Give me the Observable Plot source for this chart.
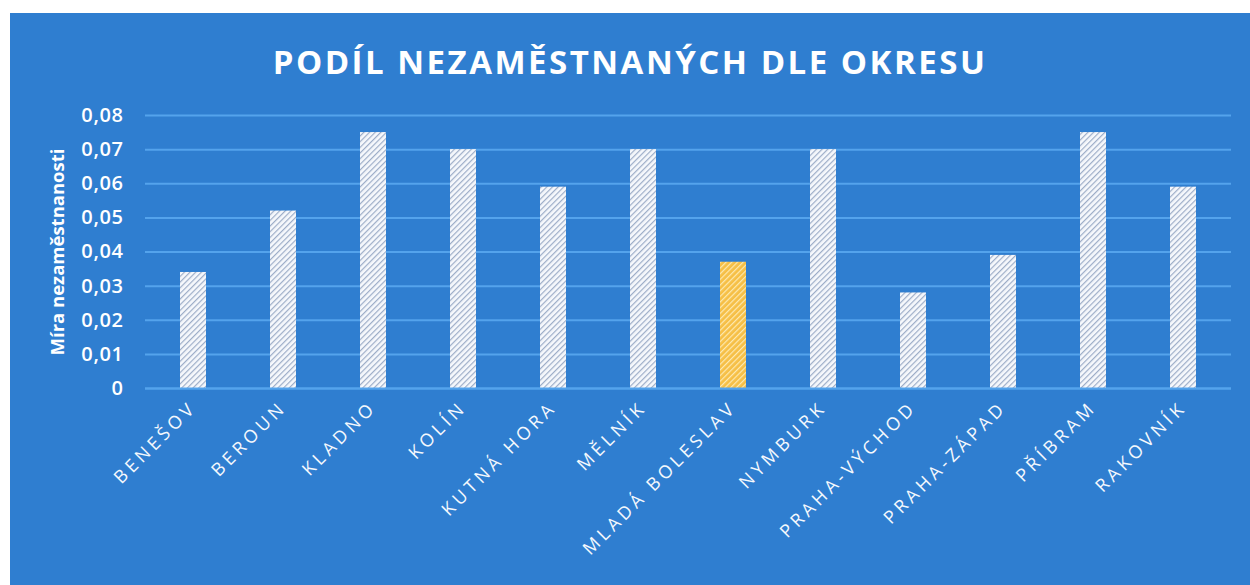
<!DOCTYPE html>
<html>
<head>
<meta charset="utf-8">
<script src="https://cdn.jsdelivr.net/npm/d3@7"></script>
<script src="https://cdn.jsdelivr.net/npm/@observablehq/plot@0.6"></script>
<style>
  html, body { margin: 0; padding: 0; background: #ffffff; width: 1250px; height: 585px; overflow: hidden; }
  #panel { position: absolute; left: 10px; top: 13px; width: 1240px; height: 572px; background: #2f7ed0; }
  #title { height: 82px; line-height: 98px; text-align: center; color: #ffffff; font-family: "Open Sans", sans-serif; font-weight: 700; font-size: 33px; letter-spacing: 2.5px; }
  g[aria-label="x-axis tick label"] text { letter-spacing: 4px; }
  g[aria-label="y-axis tick label"] text { letter-spacing: 0.6px; }
</style>
</head>
<body>
<div id="panel">
  <div id="title">PODÍL NEZAMĚSTNANÝCH DLE OKRESU</div>
  <div id="chart"></div>
</div>
<script>
const districts = ["BENEŠOV", "BEROUN", "KLADNO", "KOLÍN", "KUTNÁ HORA", "MĚLNÍK", "MLADÁ BOLESLAV", "NYMBURK", "PRAHA-VÝCHOD", "PRAHA-ZÁPAD", "PŘÍBRAM", "RAKOVNÍK"];
const rates = [0.034, 0.052, 0.075, 0.070, 0.059, 0.070, 0.037, 0.070, 0.028, 0.039, 0.075, 0.059];
const highlighted = ["MLADÁ BOLESLAV"];
const yTicks = [0, 0.01, 0.02, 0.03, 0.04, 0.05, 0.06, 0.07, 0.08];
const yLabel = "Míra nezaměstnanosti";

const data = districts.map((d, i) => ({district: d, rate: rates[i], hl: highlighted.includes(d)}));
const fmt = v => v === 0 ? "0" : v.toFixed(2).replace(".", ",");

const chart = Plot.plot({
  width: 1240,
  height: 490,
  marginTop: 20,
  marginBottom: 197,
  marginLeft: 135,
  marginRight: 19,
  style: {background: "transparent", color: "#ffffff", fontFamily: "Open Sans, sans-serif"},
  x: {domain: districts, paddingInner: 0.71, paddingOuter: 0.34, label: null},
  y: {domain: [0, 0.08], label: null},
  marks: [
    Plot.gridY(yTicks, {stroke: "#54a3ec", strokeOpacity: 1, strokeWidth: 2}),
    Plot.barY(data, {x: "district", y: "rate", fill: d => d.hl ? "url(#hatchYellow)" : "url(#hatchWhite)"}),
    Plot.ruleY([0], {stroke: "#54a3ec", strokeWidth: 2}),
    Plot.axisY(yTicks, {tickFormat: fmt, tickSize: 0, tickPadding: 22, fontSize: 20, fontWeight: 600, fill: "#ffffff", label: null}),
    Plot.axisX({tickRotate: -45, tickSize: 0, tickPadding: 16, fontSize: 18, fontWeight: 500, fill: "#f4f8fd", label: null}),
    Plot.text([yLabel], {frameAnchor: "left", textAnchor: "middle", dx: -87, rotate: -90, fontSize: 18.5, fontWeight: 700, fill: "#ffffff"})
  ]
});

const ns = "http://www.w3.org/2000/svg";
const defs = document.createElementNS(ns, "defs");
function hatch(id, base, stripe) {
  const p = document.createElementNS(ns, "pattern");
  p.setAttribute("id", id);
  p.setAttribute("patternUnits", "userSpaceOnUse");
  p.setAttribute("width", "4");
  p.setAttribute("height", "4");
  p.setAttribute("patternTransform", "rotate(45)");
  const r = document.createElementNS(ns, "rect");
  r.setAttribute("width", "4"); r.setAttribute("height", "4"); r.setAttribute("fill", base);
  const l = document.createElementNS(ns, "rect");
  l.setAttribute("width", "1.2"); l.setAttribute("height", "4"); l.setAttribute("fill", stripe);
  p.appendChild(r); p.appendChild(l);
  defs.appendChild(p);
}
hatch("hatchWhite", "#f6f8fc", "#9dadc8");
hatch("hatchYellow", "#f6bf45", "#fde9b0");
chart.insertBefore(defs, chart.firstChild);
document.getElementById("chart").appendChild(chart);
</script>
</body>
</html>
